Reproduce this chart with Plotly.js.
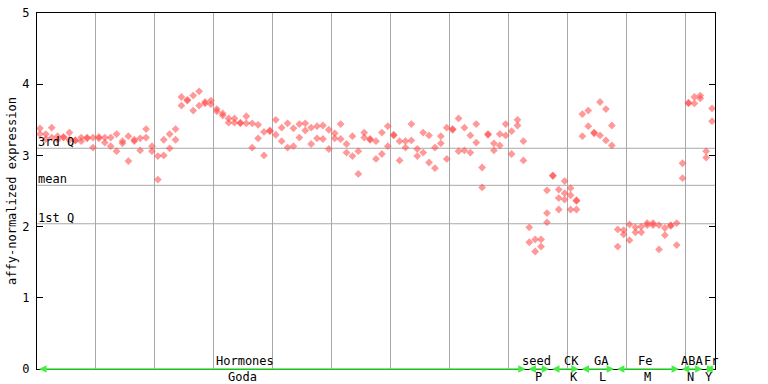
<!DOCTYPE html>
<html><head><meta charset="utf-8">
<script src="https://cdn.plot.ly/plotly-3.0.1.min.js"></script>
<style>body{margin:0;background:#fff}#chart{width:768px;height:384px}</style>
</head><body><div id="chart"></div>
<script>
// replicate values per sample column (1..115)
const rep1 = [3.38,3.30,3.39,3.27,3.26,3.32,3.21,3.25,3.24,3.25,
  3.26,3.25,3.25,3.30,3.20,3.27,3.22,3.24,3.37,3.13,
  2.99,3.22,3.30,3.37,3.82,3.78,3.84,3.90,3.75,3.77,
  3.65,3.59,3.52,3.52,3.46,3.55,3.45,3.43,3.33,3.35,
  3.50,3.39,3.45,3.38,3.44,3.45,3.39,3.41,3.42,3.36,
  3.31,3.44,3.16,3.27,3.06,3.32,3.23,3.20,3.32,3.41,
  3.29,3.20,3.20,3.44,3.09,3.32,3.28,3.11,3.27,3.39,
  3.37,3.52,3.39,3.28,3.44,2.83,3.30,3.17,3.30,3.44,
  3.34,3.50,3.20,1.99,1.82,1.82,2.51,2.72,2.52,2.64,
  2.54,2.37,3.58,3.63,3.32,3.75,3.65,3.42,1.96,1.95,
  2.03,1.99,2.00,2.05,2.05,2.02,1.98,2.02,2.05,2.89,
  3.74,3.82,3.84,3.06,3.66];
const rep2 = [3.30,3.23,3.25,3.22,3.25,3.22,3.21,3.20,3.25,3.11,
  3.24,3.18,3.13,3.06,3.17,2.92,3.20,3.07,3.25,3.06,
  2.66,3.00,3.10,3.22,3.70,3.77,3.63,3.70,3.73,3.72,
  3.62,3.56,3.46,3.46,3.45,3.45,3.11,3.24,3.00,3.34,
  3.29,3.20,3.11,3.13,3.25,3.35,3.16,3.24,3.23,3.09,
  3.24,3.23,3.04,2.99,2.74,3.25,3.22,2.95,3.02,3.13,
  3.28,2.93,3.11,3.21,2.99,3.04,2.90,2.82,3.17,2.95,
  3.36,3.06,3.07,3.04,3.18,2.55,3.29,3.07,3.14,3.28,
  3.02,3.42,2.93,1.78,1.65,1.72,2.19,2.71,2.40,2.47,
  2.44,2.36,3.27,3.41,3.31,3.28,3.21,3.14,1.72,1.89,
  1.81,1.92,1.92,2.02,2.02,1.68,1.88,2.01,1.74,2.68,
  3.73,3.73,3.80,2.97,3.48];
const rep3 = [null,null,null,null,null,null,null,null,null,null,
  null,null,null,null,null,null,null,null,null,null,
  null,null,null,null,null,null,null,null,null,null,
  null,null,null,null,null,null,null,null,null,null,
  null,null,null,null,null,null,null,null,null,null,
  null,null,null,null,null,null,null,null,null,null,
  null,null,null,null,null,null,null,null,null,null,
  null,null,null,null,null,null,null,null,null,null,
  null,null,null,null,null,null,2.06,null,2.24,2.38,
  2.24,2.24,null,null,null,null,null,null,null,null,
  null,null,null,null,null,null,null,null,null,null,
  null,null,null,null,null];

const groupTop = ['Hormones','seed','CK','GA','Fe','ABA','Fr'];
const groupBottom = ['Goda','P','K','L','M','N','Y'];
const groupStart = [1,84,88,93,99,110,114];
const groupEnd = [83,87,92,98,109,113,115];
const topLabelAt = [35.8,85.3,91.2,96.2,103.6,111.6,114.9];
const bottomLabelAt = [35.4,85.5,91.6,96.5,104.1,111.4,114.5];

const refNames = ['3rd Q','mean','1st Q'];
const refValues = [3.10,2.58,2.04];

const yTicks = [0,1,2,3,4,5];
const yTitle = 'affy-normalized expression';

const N = rep1.length;
const xs = [], ys = [];
[rep1, rep2, rep3].forEach(r => r.forEach((v, i) => { if (v !== null) { xs.push(i + 1); ys.push(v); } }));

const FONT = 'DejaVu Sans Mono, monospace';
const grid = [];
for (let g = 10.5; g < N; g += 10) grid.push(g);

const shapes = refValues.map(v => ({
  type: 'line', xref: 'paper', yref: 'y', x0: 0, x1: 1, y0: v, y1: v,
  line: {color: '#a8a8a8', width: 1}, layer: 'below'
}));

const annotations = [];
refNames.forEach((n, i) => annotations.push({
  xref: 'paper', yref: 'y', x: 0, y: refValues[i], xanchor: 'left', yanchor: 'bottom',
  text: n, showarrow: false, font: {family: FONT, size: 12, color: '#000'}, borderpad: 0, yshift: -2
}));
groupTop.forEach((t, i) => {
  annotations.push({xref: 'x', yref: 'paper', x: topLabelAt[i], y: 0, yanchor: 'bottom', xanchor: 'center',
    text: t, showarrow: false, font: {family: FONT, size: 12, color: '#000'}, borderpad: 0, yshift: 0});
  annotations.push({xref: 'x', yref: 'paper', x: bottomLabelAt[i], y: 0, yanchor: 'top', xanchor: 'center',
    text: groupBottom[i], showarrow: false, font: {family: FONT, size: 12, color: '#000'}, borderpad: 0, yshift: 0});
  annotations.push({xref: 'x', yref: 'y', axref: 'x', ayref: 'y',
    x: groupEnd[i] + 0.4, y: 0, ax: groupStart[i] - 0.4, ay: 0, text: '',
    showarrow: true, arrowhead: 2, arrowside: 'end+start', arrowsize: 1, arrowwidth: 1.5,
    arrowcolor: '#44ee44', standoff: 0, startstandoff: 0});
});
annotations.push({xref: 'paper', yref: 'paper', x: -0.037, y: 0.5, xanchor: 'center', yanchor: 'middle',
  textangle: -90, text: yTitle, showarrow: false, font: {family: FONT, size: 12, color: '#000'}});

const trace = {
  type: 'scatter', mode: 'markers', x: xs, y: ys, hoverinfo: 'skip',
  marker: {symbol: 'diamond', size: 6, color: 'rgba(255,70,70,0.55)', line: {width: 0}}
};

const layout = {
  width: 768, height: 384,
  margin: {l: 37, r: 53, t: 13, b: 15, pad: 0},
  paper_bgcolor: '#fff', plot_bgcolor: '#fff',
  showlegend: false,
  font: {family: FONT, size: 12, color: '#000'},
  xaxis: {range: [0.5, N + 0.5], tickvals: grid, showticklabels: false, ticks: '',
    showgrid: true, gridcolor: '#a8a8a8', gridwidth: 1, zeroline: false,
    showline: true, linecolor: '#000', linewidth: 1, mirror: true, fixedrange: true},
  yaxis: {range: [0, 5], tickvals: yTicks, ticktext: yTicks.map(String), ticks: 'inside', ticklen: 6,
    tickcolor: '#000', tickwidth: 1, showgrid: false, zeroline: false,
    showline: true, linecolor: '#000', linewidth: 1, mirror: 'ticks',
    tickfont: {family: FONT, size: 12, color: '#000'}, ticklabelstandoff: 4, fixedrange: true},
  shapes: shapes,
  annotations: annotations
};

Plotly.newPlot('chart', [trace], layout, {staticPlot: true, displayModeBar: false});
</script>
</body></html>
